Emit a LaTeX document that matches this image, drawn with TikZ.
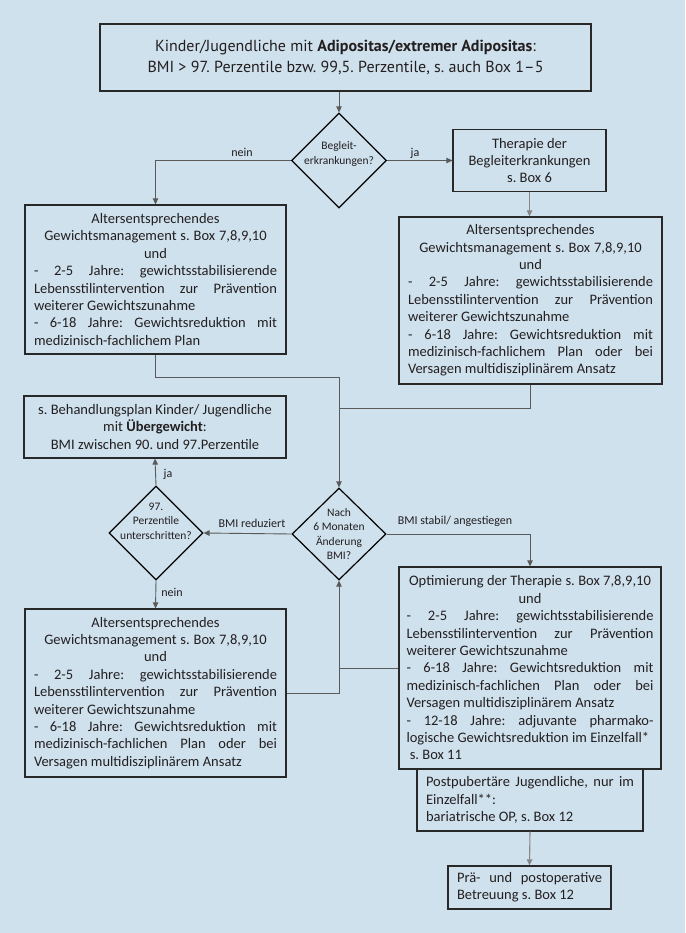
\documentclass[tikz,border=0pt]{standalone}
\usepackage{fontspec}
\setmainfont{Carlito}
\newfontfamily\topfont{PT Sans}
\usetikzlibrary{arrows.meta,shapes.geometric}
\definecolor{bg}{RGB}{207,225,237}
\definecolor{ink}{RGB}{35,31,32}
\definecolor{frame}{RGB}{40,40,40}
\definecolor{conn}{RGB}{90,90,90}
\definecolor{connlight}{RGB}{135,135,135}
\newcommand{\JustLine}[1]{\makebox[\linewidth][s]{\spaceskip=0pt\xspaceskip=0pt #1}}
\newcommand{\LeftLine}[1]{\makebox[\linewidth][l]{#1}}
\tikzset{
  box/.style={draw=frame, line width=1.2pt, inner sep=0pt, text=ink,
    font=\fontsize{14.5}{17.4}\selectfont, align=center,
    execute at begin node={\spaceskip=0pt\xspaceskip=0pt\frenchspacing}},
  dia/.style={draw=black, line width=1.2pt, diamond, inner sep=0pt},
  dtext/.style={inner sep=0pt, text=ink, align=center, font=\fontsize{11.5}{14.5}\selectfont,
    execute at begin node={\spaceskip=0pt\xspaceskip=0pt}},
  lab/.style={inner sep=0pt, text=ink, font=\fontsize{12}{14}\selectfont},
  tip/.style={-{Triangle[length=6pt,width=5.5pt]}},
  conn/.style={draw=conn, line width=0.9pt},
  connl/.style={draw=connlight, line width=1.1pt},
}
\begin{document}
\frenchspacing
\begin{tikzpicture}[x=1pt,y=-1pt]
\fill[bg] (0,0) rectangle (685,933);
\useasboundingbox (0,0) rectangle (685,933);

% top box
\node[box, minimum width=491pt, minimum height=67pt,
  font=\topfont\fontsize{16}{21}\selectfont] (top) at (345.5,57.5)
  {Kinder/Jugendliche mit \textbf{Adipositas/extremer Adipositas}:\\
   BMI > 97. Perzentile bzw. 99,5. Perzentile, s. auch Box 1–5};

% diamond 1
\node[dia, minimum width=95pt, minimum height=95pt] (d1) at (339,160.5) {};
\node[dtext] (d1t) at (339,154) {Begleit-\\erkrankungen?};

% therapy box
\node[box, minimum width=153pt, minimum height=62pt] (th) at (529.5,160.5)
  {Therapie der\\Begleiterkrankungen\\s. Box 6};

% left box 1
\node[box, minimum width=261pt, minimum height=149pt, text width=243pt] (lb1) at (155.5,279.5)
  {Altersentsprechendes\\
   Gewichtsmanagement s. Box 7,8,9,10\\
   und\\
   \JustLine{- 2-5 Jahre: gewichtsstabilisierende}\\
   \JustLine{Lebensstilintervention zur Prävention}\\
   \LeftLine{weiterer Gewichtszunahme}\\
   \JustLine{- 6-18 Jahre: Gewichtsreduktion mit}\\
   \LeftLine{medizinisch-fachlichem Plan}};

% right box 1
\node[box, minimum width=263pt, minimum height=167pt, text width=245pt] (rb1) at (530.5,300.5)
  {Altersentsprechendes\\
   Gewichtsmanagement s. Box 7,8,9,10\\
   und\\
   \JustLine{- 2-5 Jahre: gewichtsstabilisierende}\\
   \JustLine{Lebensstilintervention zur Prävention}\\
   \LeftLine{weiterer Gewichtszunahme}\\
   \JustLine{- 6-18 Jahre: Gewichtsreduktion mit}\\
   \JustLine{medizinisch-fachlichem Plan oder bei}\\
   \LeftLine{Versagen multidisziplinärem Ansatz}};

% Behandlungsplan box
\node[box, minimum width=262pt, minimum height=62pt] (bp) at (155,427)
  {s. Behandlungsplan Kinder/ Jugendliche\\
   mit \textbf{Übergewicht}:\\
   BMI zwischen 90. und 97.Perzentile};

% diamond 97. Perzentile
\node[dia, minimum width=94pt, minimum height=94pt] (d3) at (156,533) {};
\node[dtext] (d3t) at (156,521) {97.\\Perzentile\\unterschritten?};

% diamond Nach 6 Monaten
\node[dia, minimum width=94pt, minimum height=92pt] (d2) at (339,534) {};
\node[dtext] (d2t) at (339,534) {Nach\\6 Monaten\\Änderung\\BMI?};

% left box 3
\node[box, minimum width=261pt, minimum height=168pt, text width=243pt] (lb3) at (155.5,693)
  {Altersentsprechendes\\
   Gewichtsmanagement s. Box 7,8,9,10\\
   und\\
   \JustLine{- 2-5 Jahre: gewichtsstabilisierende}\\
   \JustLine{Lebensstilintervention zur Prävention}\\
   \LeftLine{weiterer Gewichtszunahme}\\
   \JustLine{- 6-18 Jahre: Gewichtsreduktion mit}\\
   \JustLine{medizinisch-fachlichen Plan oder bei}\\
   \LeftLine{Versagen multidisziplinärem Ansatz}};

% Optimierung box
\node[box, minimum width=262pt, minimum height=202pt, text width=247pt] (opt) at (530,668)
  {Optimierung der Therapie s. Box 7,8,9,10\\
   und\\
   \JustLine{- 2-5 Jahre: gewichtsstabilisierende}\\
   \JustLine{Lebensstilintervention zur Prävention}\\
   \LeftLine{weiterer Gewichtszunahme}\\
   \JustLine{- 6-18 Jahre: Gewichtsreduktion mit}\\
   \JustLine{medizinisch-fachlichen Plan oder bei}\\
   \LeftLine{Versagen multidisziplinärem Ansatz}\\
   \JustLine{- 12-18 Jahre: adjuvante pharmako-}\\
   \LeftLine{logische Gewichtsreduktion im Einzelfall*}\\
   \LeftLine{\ s. Box 11}};

% Postpubertaere box
\node[box, minimum width=226pt, minimum height=62pt, text width=208pt] (pp) at (530,800)
  {\JustLine{Postpubertäre Jugendliche, nur im}\\
   \LeftLine{Einzelfall**:}\\
   \LeftLine{bariatrische OP, s. Box 12}};

% Prae box
\node[box, minimum width=163pt, minimum height=43pt, text width=145pt] (pr) at (529.5,887.5)
  {\JustLine{Prä- und postoperative}\\
   \LeftLine{Betreuung s. Box 12}};

% junction coordinates
\coordinate (j1) at (339,377);
\coordinate (j2) at (339,408);

% connectors
\draw[conn, tip] (top.south -| d1.north) -- (d1.north);
\draw[conn, tip] (d1.west) -| (lb1.north);
\draw[conn, tip] (d1.east) -- (th.west);
\draw[connl, tip] (th.south) -- (th.south |- rb1.north);
\draw[conn, tip] (lb1.south) |- (j1) -- (d2.north);
\draw[conn] (rb1.south) |- (j2);
\draw[conn, tip] (d2.west) -- (d3.east);
\draw[conn, tip] (d3.north) -- (bp.south);
\draw[conn, tip] (d3.south) -- (lb3.north);
\draw[conn, tip] (d2.east) -| (opt.north);
\draw[conn, tip] (lb3.east) -| (d2.south);
\draw[conn] (opt.west) -- (opt.west -| d2.south);
\draw[connl, tip] (pp.south) -- (pr.north);

% labels
\node[lab] (lnein1) at (242,152) {nein};
\node[lab] (lja1) at (415,153) {ja};
\node[lab] (lred) at (252,523) {BMI reduziert};
\node[lab] (lja2) at (168,474) {ja};
\node[lab] (lnein2) at (172,592) {nein};
\node[lab] (lstab) at (455,521) {BMI stabil/ angestiegen};
\end{tikzpicture}
\end{document}
